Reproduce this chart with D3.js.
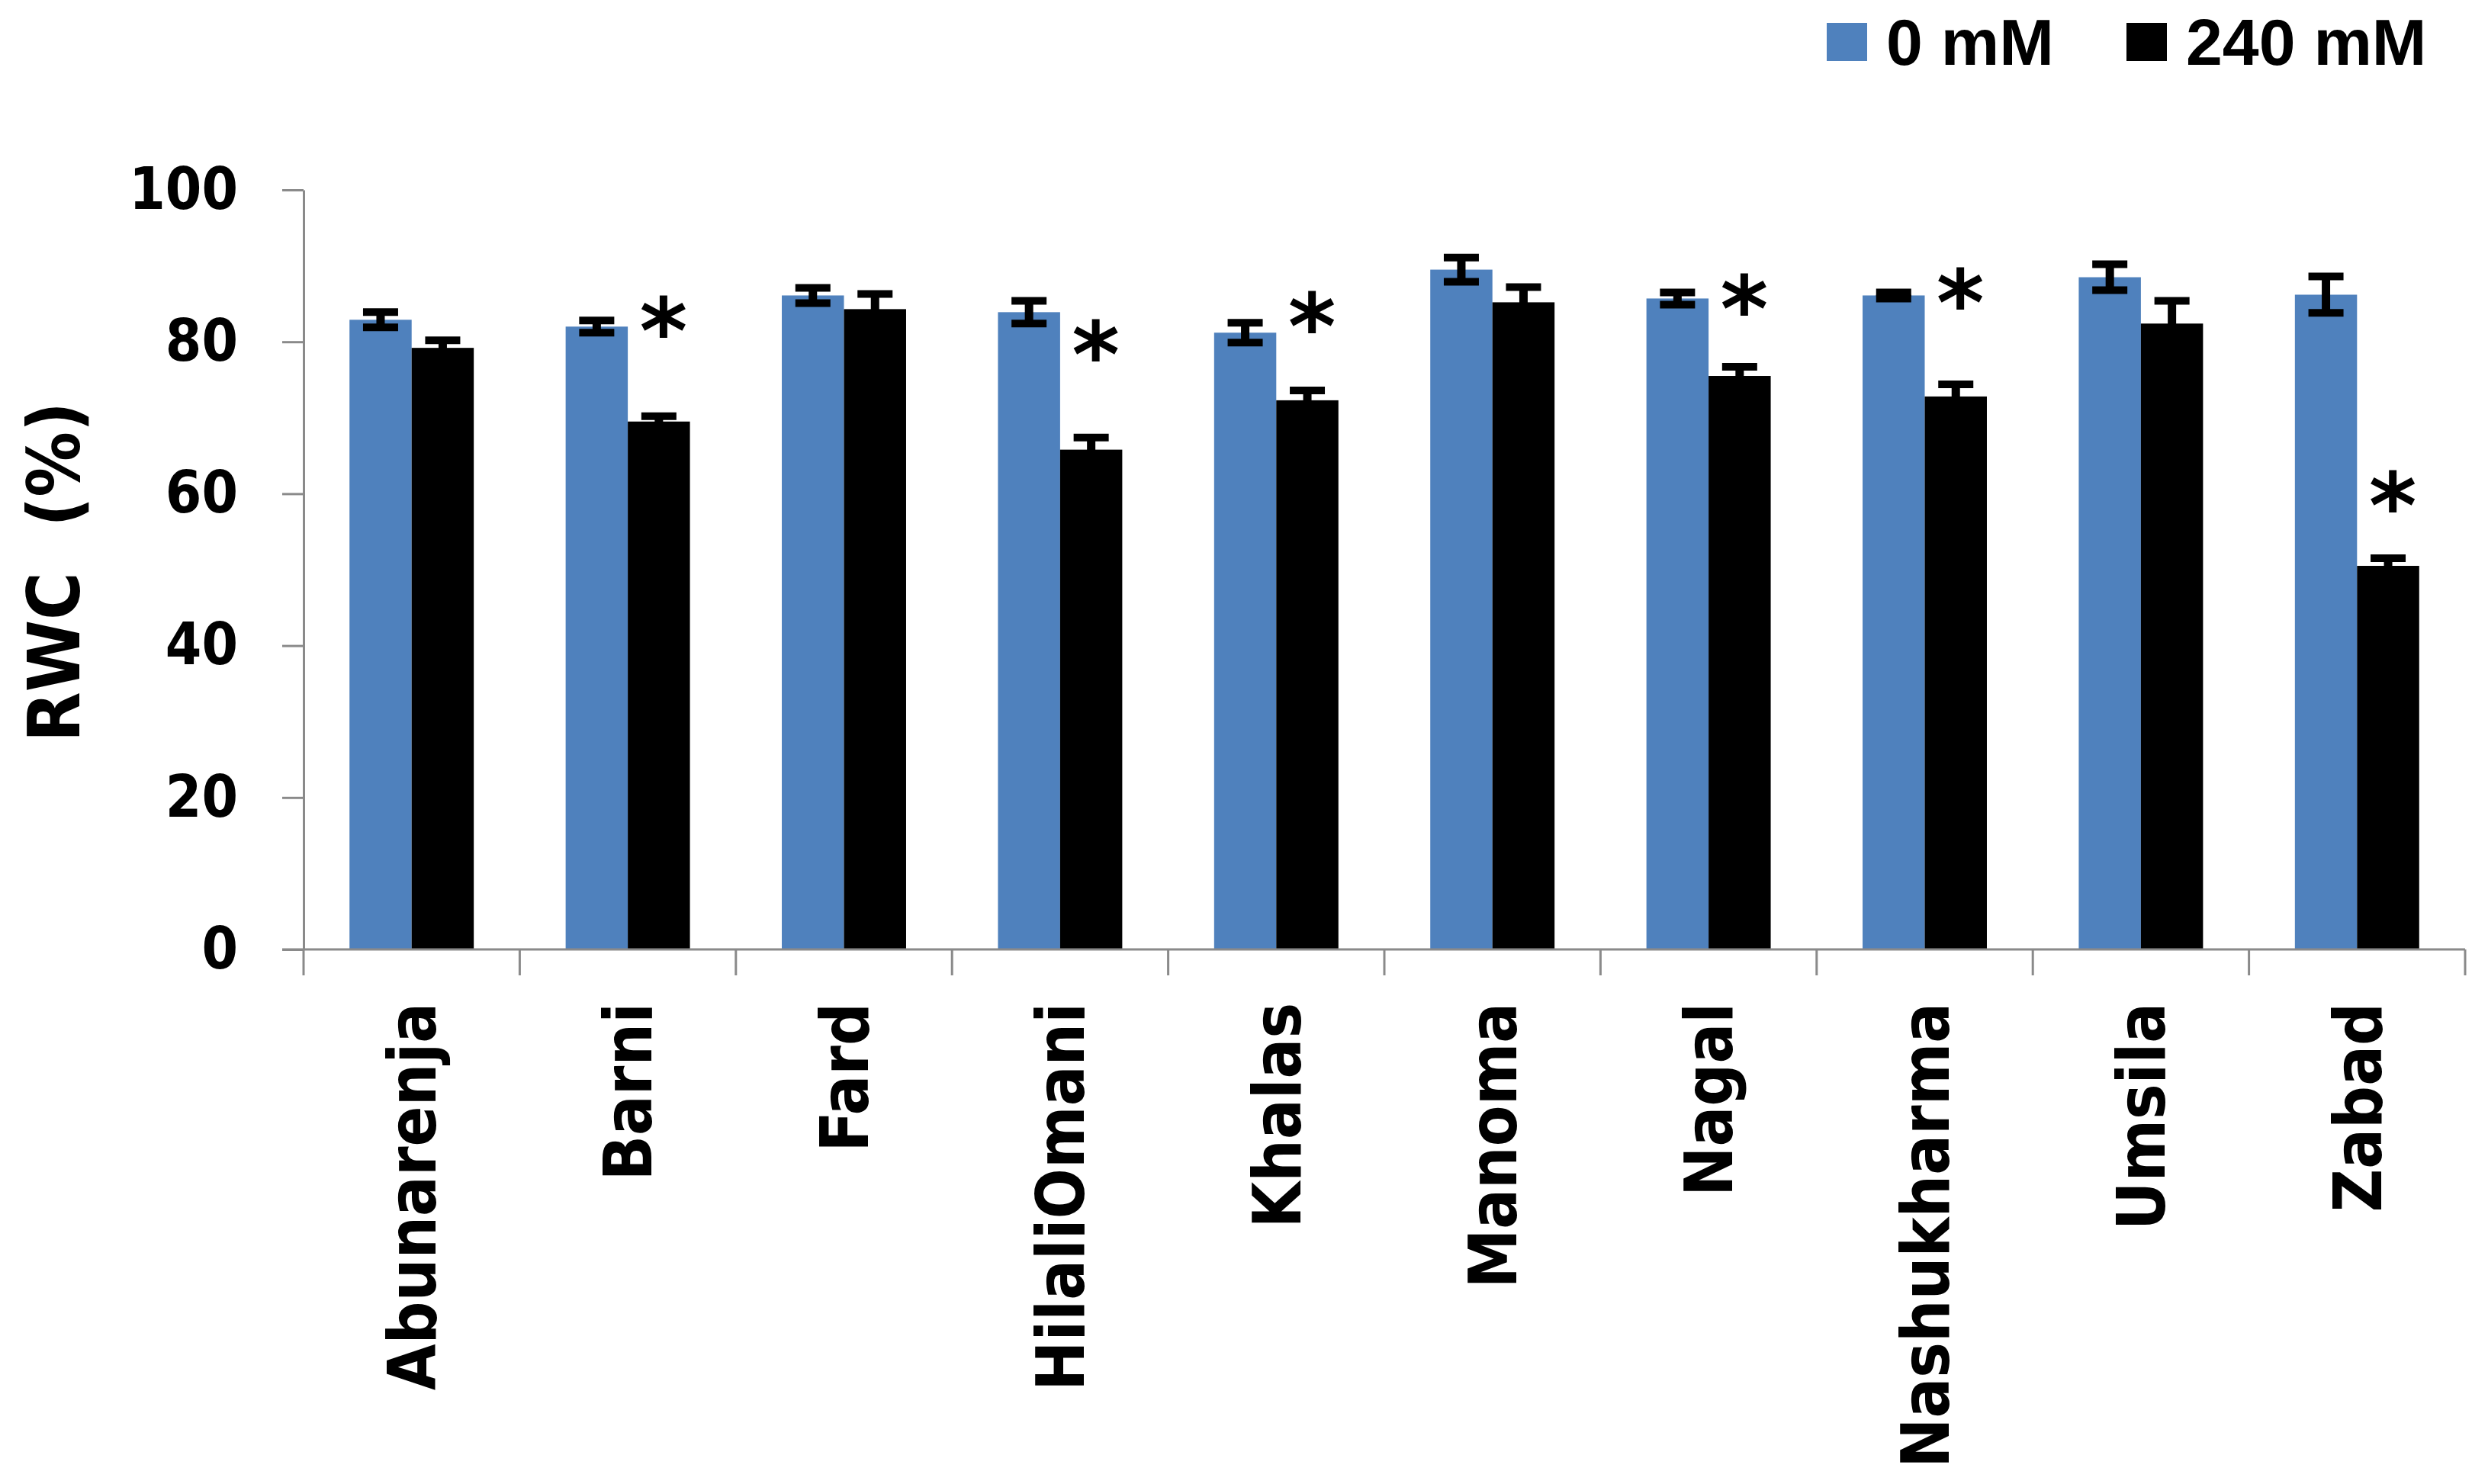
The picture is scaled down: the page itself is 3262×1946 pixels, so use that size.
<!DOCTYPE html>
<html>
<head>
<meta charset="utf-8">
<script src="https://cdn.jsdelivr.net/npm/d3@7"></script>
<style>
  html, body { margin: 0; padding: 0; background: #fff; }
  svg { display: block; }
</style>
</head>
<body>
<svg id="chart" width="3262" height="1946"></svg>
<script>
// ---- data ----
const categories = ["Abunarenja", "Barni", "Fard", "HilaliOmani", "Khalas", "Manoma", "Nagal", "Nashukharma", "Umsila", "Zabad"];
const seriesNames = ["0 mM", "240 mM"];
const control = [82.9, 82.0, 86.1, 83.9, 81.2, 89.5, 85.7, 86.1, 88.5, 86.2];
const controlErr = [1.0, 0.8, 1.0, 1.5, 1.3, 1.6, 0.8, 0.4, 1.7, 2.4];
const salt = [79.2, 69.5, 84.3, 65.8, 72.3, 85.2, 75.5, 72.8, 82.4, 50.5];
const saltErr = [1.0, 0.7, 2.0, 1.6, 1.3, 2.0, 1.2, 1.6, 3.0, 1.0];
// level (in RWC %) at which the significance asterisk is shown; null = not significant
const asteriskLevel = [null, 82.6, null, 79.5, 83.2, null, 85.5, 86.3, null, 59.6];
const yTicks = [0, 20, 40, 60, 80, 100];
const yLabel = "RWC  (%)";

(function () {
// ---- layout ----
const colors = ["#4F81BD", "#000000"];
const axisColor = "#8a8a8a";
const plotL = 398, plotR = 3232, plotT = 249, plotB = 1245;
const svg = d3.select("#chart");

const x = d3.scaleBand().domain(categories).range([plotL, plotR]).paddingInner(0.425).paddingOuter(0.2125);
const x1 = d3.scaleBand().domain(seriesNames).range([0, x.bandwidth()]);
const y = d3.scaleLinear().domain([0, 100]).range([plotB, plotT]);

const rows = categories.map((c, i) => ({
  cat: c,
  vals: [
    { s: seriesNames[0], v: control[i], e: controlErr[i] },
    { s: seriesNames[1], v: salt[i], e: saltErr[i] }
  ],
  ast: asteriskLevel[i]
}));

// bars
const g = svg.selectAll("g.grp").data(rows).join("g")
  .attr("class", "grp")
  .attr("transform", d => `translate(${x(d.cat)},0)`);

g.selectAll("rect").data(d => d.vals).join("rect")
  .attr("x", d => x1(d.s))
  .attr("width", x1.bandwidth())
  .attr("y", d => y(d.v))
  .attr("height", d => y(0) - y(d.v))
  .attr("fill", (d, i) => colors[i]);

// error bars
const capW = 46;
g.each(function (d) {
  const gg = d3.select(this);
  d.vals.forEach(v => {
    const cx = x1(v.s) + x1.bandwidth() / 2;
    gg.append("line").attr("x1", cx).attr("x2", cx)
      .attr("y1", y(v.v + v.e)).attr("y2", y(v.v - v.e))
      .attr("stroke", "#000").attr("stroke-width", 11);
    [v.v + v.e, v.v - v.e].forEach(t => {
      gg.append("line").attr("x1", cx - capW / 2).attr("x2", cx + capW / 2)
        .attr("y1", y(t)).attr("y2", y(t))
        .attr("stroke", "#000").attr("stroke-width", 10);
    });
  });
});

// significance asterisks
const astSize = 120;
g.filter(d => d.ast != null).append("text")
  .attr("x", x1(seriesNames[1]) + x1.bandwidth() / 2 + 6)
  .attr("y", d => y(d.ast) + 0.45 * astSize)
  .attr("text-anchor", "middle")
  .attr("font-family", "DejaVu Sans")
  .attr("font-weight", "bold")
  .attr("font-size", astSize)
  .text("*");

// y axis
const yAxis = svg.append("g")
  .attr("transform", `translate(${plotL},0)`)
  .call(d3.axisLeft(y).tickValues(yTicks).tickSize(28).tickPadding(58).tickSizeOuter(0));
yAxis.select(".domain").attr("stroke", axisColor).attr("stroke-width", 3);
yAxis.selectAll(".tick line").attr("stroke", axisColor).attr("stroke-width", 3);
yAxis.selectAll(".tick text")
  .attr("font-family", "'DejaVu Sans Condensed', 'DejaVu Sans'")
  .attr("font-weight", "bold")
  .attr("font-size", 76)
  .attr("fill", "#000");

// x axis line and ticks at band boundaries
const xAxisG = svg.append("g");
xAxisG.append("line")
  .attr("x1", plotL - 28).attr("x2", plotR)
  .attr("y1", plotB).attr("y2", plotB)
  .attr("stroke", axisColor).attr("stroke-width", 3);
const boundaries = categories.map(c => x(c) - x.step() * x.paddingInner() / 2).concat([plotR]);
xAxisG.selectAll("line.tk").data(boundaries).join("line")
  .attr("class", "tk")
  .attr("x1", d => d).attr("x2", d => d)
  .attr("y1", plotB).attr("y2", plotB + 34)
  .attr("stroke", axisColor).attr("stroke-width", 3);

// category labels (rotated)
xAxisG.selectAll("text.cat").data(categories).join("text")
  .attr("class", "cat")
  .attr("transform", d => `translate(${x(d) + x.bandwidth() / 2},${plotB + 70}) rotate(-90)`)
  .attr("text-anchor", "end")
  .attr("dy", "0.36em")
  .attr("font-family", "'DejaVu Sans Condensed', 'DejaVu Sans'")
  .attr("font-weight", "bold")
  .attr("font-size", 87)
  .attr("fill", "#000")
  .text(d => d);

// y label
svg.append("text")
  .attr("transform", `translate(70,${(plotT + plotB) / 2 + 3}) rotate(-90)`)
  .attr("text-anchor", "middle")
  .attr("dy", "0.36em")
  .attr("font-family", "'DejaVu Sans Condensed', 'DejaVu Sans'")
  .attr("font-weight", "bold")
  .attr("font-size", 95)
  .attr("fill", "#000")
  .style("white-space", "pre")
  .text(yLabel);

// legend
const legendX = [2395, 2788];
const leg = svg.selectAll("g.leg").data(seriesNames).join("g")
  .attr("class", "leg")
  .attr("transform", (d, i) => `translate(${legendX[i]},0)`);
leg.append("rect").attr("x", 0).attr("y", 30).attr("width", 53).attr("height", 50)
  .attr("fill", (d, i) => colors[i]);
leg.append("text").attr("x", 78).attr("y", 85)
  .attr("font-family", "'Liberation Sans', Arial, sans-serif")
  .attr("font-weight", "bold")
  .attr("font-size", 86)
  .attr("fill", "#000")
  .text(d => d);
})();
</script>
</body>
</html>
